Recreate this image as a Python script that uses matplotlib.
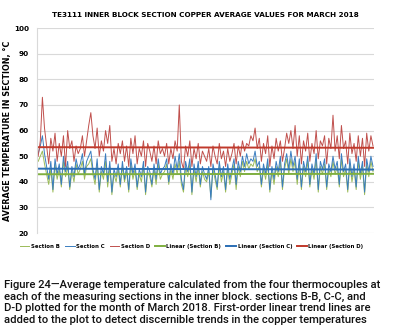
import numpy as np
import matplotlib
matplotlib.use("Agg")
import matplotlib.pyplot as plt

section_d = [50, 56, 73, 61, 54, 47, 57, 52, 59, 48, 55, 50, 58, 46, 60, 53, 56, 48, 54, 51,
             53, 58, 50, 56, 62, 67, 58, 53, 61, 50, 56, 52, 60, 55, 62, 48, 53, 47, 55, 51,
             56, 48, 54, 46, 57, 51, 58, 47, 53, 50, 56, 46, 55, 52, 48, 54, 47, 56, 51, 53,
             50, 55, 47, 53, 49, 56, 52, 70, 48, 45, 54, 50, 56, 46, 53, 49, 55, 47, 52, 50,
             48, 53, 46, 54, 50, 47, 55, 49, 52, 46, 53, 48, 51, 55, 47, 54, 50, 56, 52, 55,
             54, 58, 56, 61, 53, 57, 48, 55, 51, 58, 46, 54, 49, 57, 52, 56, 48, 53, 59, 55,
             60, 53, 62, 50, 58, 47, 56, 52, 59, 48, 55, 51, 60, 49, 56, 54, 58, 47, 57, 53,
             66, 52, 58, 49, 62, 53, 56, 47, 59, 51, 55, 48, 58, 50, 57, 46, 59, 52, 58, 54]

section_c = [51, 54, 58, 51, 46, 41, 48, 37, 49, 43, 47, 39, 50, 44, 48, 38, 46, 42, 49, 45,
             47, 51, 43, 48, 50, 52, 45, 41, 49, 37, 46, 43, 51, 40, 48, 36, 45, 42, 47, 39,
             48, 41, 46, 37, 49, 43, 47, 38, 45, 42, 48, 36, 46, 44, 39, 47, 41, 49, 43, 45,
             46, 49, 40, 47, 43, 50, 45, 51, 41, 37, 48, 44, 49, 36, 47, 42, 48, 39, 46, 43,
             41, 46, 33, 47, 43, 38, 48, 42, 46, 37, 47, 41, 45, 49, 39, 48, 44, 50, 46, 51,
             47, 49, 48, 52, 46, 48, 39, 47, 43, 49, 37, 46, 41, 48, 44, 50, 38, 47, 51, 45,
             52, 46, 50, 41, 49, 38, 48, 44, 50, 39, 47, 43, 51, 37, 48, 45, 49, 38, 47, 44,
             50, 45, 48, 39, 51, 44, 47, 37, 49, 42, 47, 38, 50, 43, 48, 36, 49, 44, 50, 46]

section_b = [48, 50, 52, 47, 43, 39, 45, 36, 47, 41, 45, 38, 48, 42, 46, 37, 44, 40, 47, 43,
             45, 48, 41, 46, 47, 49, 43, 39, 47, 36, 44, 41, 48, 38, 46, 35, 43, 40, 45, 38,
             46, 40, 44, 36, 47, 41, 45, 37, 43, 40, 46, 35, 44, 42, 38, 45, 39, 47, 41, 43,
             44, 47, 39, 45, 41, 47, 43, 48, 39, 36, 46, 42, 47, 35, 45, 40, 46, 38, 44, 41,
             40, 44, 34, 45, 41, 37, 46, 40, 44, 36, 45, 39, 43, 47, 37, 46, 42, 48, 44, 48,
             45, 47, 46, 49, 44, 46, 38, 45, 41, 47, 36, 44, 39, 46, 42, 48, 37, 45, 49, 43,
             49, 44, 48, 39, 47, 37, 46, 42, 48, 38, 45, 41, 49, 36, 46, 43, 47, 37, 45, 42,
             48, 43, 46, 38, 49, 42, 45, 36, 47, 40, 45, 37, 48, 41, 46, 35, 47, 42, 48, 44]

names = ["Section B", "Section C", "Section D"]
colors = ["#9BBB59", "#3A7DC0", "#C0504D"]
trend_colors = ["#7FAF3F", "#2A6EB4", "#C0392B"]

caption = ("Figure 24\u2014Average temperature calculated from the four thermocouples at\n"
           "each of the measuring sections in the inner block. sections B-B, C-C, and\n"
           "D-D plotted for the month of March 2018. First-order linear trend lines are\n"
           "added to the plot to detect discernible trends in the copper temperatures")

fig = plt.figure(figsize=(3.95, 3.34), dpi=100)
ax = fig.add_axes([0.094, 0.302, 0.853, 0.614])

x = np.arange(len(section_d))
series = [section_b, section_c, section_d]
handles = []
for s, name, c in zip(series, names, colors):
    h, = ax.plot(x, s, color=c, lw=0.7, label=name)
    handles.append(h)
for s, name, c in zip(series, names, trend_colors):
    k, b = np.polyfit(x, s, 1)
    h, = ax.plot(x, k * x + b, color=c, lw=1.4, label="Linear (%s)" % name)
    handles.append(h)

ax.set_xlim(-0.5, len(x) - 0.5)
ax.set_ylim(20, 100)
ax.set_yticks(range(20, 101, 10))
ax.set_xticks([])
ax.grid(axis="y", color="#D9D9D9", lw=0.8)
ax.set_axisbelow(True)
for sp in ["top", "right", "bottom"]:
    ax.spines[sp].set_visible(False)
ax.spines["left"].set_color("#D9D9D9")
ax.tick_params(axis="y", length=0, labelsize=5.2, pad=6)
for t in ax.get_yticklabels():
    t.set_fontweight("bold")

ax.set_ylabel("AVERAGE TEMPERATURE IN SECTION, \u00b0C", fontsize=5.8, fontweight="bold")
ax.yaxis.set_label_coords(-0.075, 0.5)
fig.text(0.52, 0.955, "TE3111 INNER BLOCK SECTION COPPER AVERAGE VALUES FOR MARCH 2018",
         ha="center", va="center", fontsize=5.2, fontweight="bold")

fig.legend(handles=handles, loc="center", bbox_to_anchor=(0.485, 0.263), ncol=6,
           frameon=False, handlelength=1.8, handletextpad=0.3,
           columnspacing=0.9, prop={"weight": "bold", "size": 3.9})

fig.text(0.01, 0.094, caption, ha="left", va="center", fontsize=8.1,
         family="Roboto", fontweight="medium", linespacing=1.2, color="#111111")

fig.savefig("out.png", dpi=100)
